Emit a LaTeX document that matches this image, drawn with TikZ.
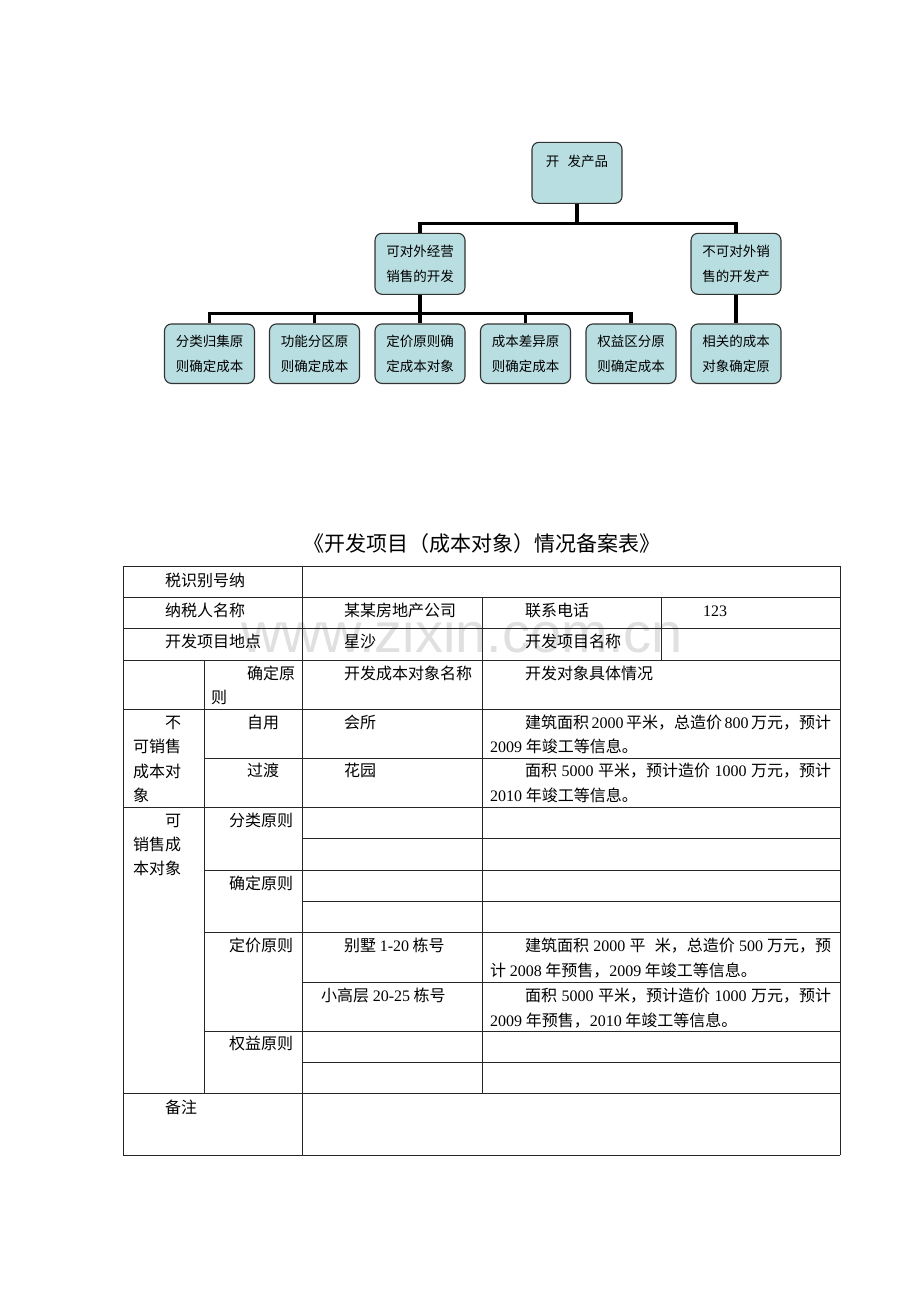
\documentclass[tikz,border=0pt]{standalone}
\usepackage{fontspec}
\setmainfont{Liberation Serif}
\newfontfamily\cjk{Noto Sans CJK SC}
\newfontfamily\wmfont{Liberation Sans}
\newcommand\lt[1]{{\rmfamily #1}}
\definecolor{boxc}{HTML}{B9DEE1}
\tikzset{
  tbox/.style={draw=black!80, line width=1.1pt, fill=boxc, rounded corners=7pt,
    minimum width=90pt, minimum height=61pt, inner sep=0pt, align=center,
    font=\cjk\fontsize{13.5}{24.5}\selectfont},
  conn/.style={line width=3.3pt},
  tl/.style={draw=black!85, line width=0.9pt},
  tt/.style={anchor=west, inner sep=0pt, text height=14pt, text depth=2pt,
    font=\cjk\fontsize{16}{16}\selectfont},
}
\begin{document}
\begin{tikzpicture}[x=1pt,y=-1pt]
\useasboundingbox (0,0) rectangle (920,1302);
\fill[white] (0,0) rectangle (920,1302);

% ---------- tree ----------
\node[tbox] (top) at (577,172.8) {开\hspace{0.6em}发产品\\\mbox{}};
\node[tbox] (ml) at (420,263.8) {可对外经营\\销售的开发};
\node[tbox] (mr) at (736,263.8) {不可对外销\\售的开发产};
\node[tbox, minimum height=59.5pt] (b1) at (209.5,353.7) {分类归集原\\则确定成本};
\node[tbox, minimum height=59.5pt] (b2) at (314.5,353.7) {功能分区原\\则确定成本};
\node[tbox, minimum height=59.5pt] (b3) at (420,353.7) {定价原则确\\定成本对象};
\node[tbox, minimum height=59.5pt] (b4) at (525.5,353.7) {成本差异原\\则确定成本};
\node[tbox, minimum height=59.5pt] (b5) at (631,353.7) {权益区分原\\则确定成本};
\node[tbox, minimum height=59.5pt] (b6) at (736,353.7) {相关的成本\\对象确定原};

\coordinate (j1) at (577,223.3);
\coordinate (j2) at (420,313.5);
\draw[conn] (top.south) -- (j1);
\draw[conn] (ml.north) |- (j1) -| (mr.north);
\draw[conn] (ml.south) -- (b3.north);
\draw[conn] (b1.north) |- (j2) -| (b5.north);
\draw[conn] (b2.north) -- (b2.north |- j2);
\draw[conn] (b4.north) -- (b4.north |- j2);
\draw[conn] (mr.south) -- (b6.north);

% ---------- title ----------
\node[inner sep=0pt, font=\cjk\fontsize{21}{21}\selectfont] (title) at (482,543.5)
  {《开发项目（成本对象）情况备案表》};

% ---------- watermark ----------
\node[anchor=base, inner sep=0pt, text=black!12, font=\wmfont\fontsize{56}{56}\selectfont]
  (wm) at (462,652) {www.zixin.com.cn};

% ---------- table lines ----------
\foreach \yy/\xa in {566/123, 597/123, 628/123, 660/123, 709/123, 758/204, 807/123,
  838.5/302, 870/204, 901/302, 932.5/204, 982/302, 1031/204, 1062/302, 1093/123, 1155/123}
  \draw[tl] (\xa,\yy) -- (840,\yy);
\draw[tl] (123,566) -- (123,1155);
\draw[tl] (840,566) -- (840,1155);
\draw[tl] (302,566) -- (302,1155);
\draw[tl] (204,660) -- (204,1093);
\draw[tl] (482,597) -- (482,1093);
\draw[tl] (661,597) -- (661,660);

% ---------- table text ----------
\node[tt] (t1) at (165,580.5) {税识别号纳};
\node[tt] (t2) at (165,610) {纳税人名称};
\node[tt] (t3) at (344,610) {某某房地产公司};
\node[tt] (t4) at (525,610) {联系电话};
\node[tt] (t5) at (703,610) {\lt{123}};
\node[tt] (t6) at (165,641.5) {开发项目地点};
\node[tt] (t7) at (344,641.5) {星沙};
\node[tt] (t8) at (525,641.5) {开发项目名称};
\node[tt] (t9) at (247,673.5) {确定原};
\node[tt] (t10) at (211,697.5) {则};
\node[tt] (t11) at (344,673.5) {开发成本对象名称};
\node[tt] (t12) at (525,673.5) {开发对象具体情况};

\node[tt] (t13) at (165,722) {不};
\node[tt] (t14) at (133,746.5) {可销售};
\node[tt] (t15) at (133,771) {成本对};
\node[tt] (t16) at (133,795) {象};
\node[tt] (t17) at (247,722) {自用};
\node[tt] (t18) at (344,722) {会所};
\node[tt] (t19) at (525,722) {\makebox[306pt][s]{建筑面积 \lt{2000} 平米，总造价 \lt{800} 万元，预计}};
\node[tt] (t20) at (490,746.5) {\lt{2009} 年竣工等信息。};
\node[tt] (t21) at (247,770.5) {过渡};
\node[tt] (t22) at (344,770.5) {花园};
\node[tt] (t23) at (525,770.5) {\makebox[306pt][s]{面积 \lt{5000} 平米，预计造价 \lt{1000} 万元，预计}};
\node[tt] (t24) at (490,795) {\lt{2010} 年竣工等信息。};

\node[tt] (t25) at (165,820) {可};
\node[tt] (t26) at (133,844.5) {销售成};
\node[tt] (t27) at (133,868.5) {本对象};
\node[tt] (t28) at (229,820) {分类原则};
\node[tt] (t29) at (229,883) {确定原则};
\node[tt] (t30) at (229,945) {定价原则};
\node[tt] (t31) at (344,945) {别墅 \lt{1-20} 栋号};
\node[tt] (t32) at (525,945) {\makebox[306pt][s]{建筑面积 \lt{2000} 平\hspace{5pt} 米，总造价 \lt{500} 万元，预}};
\node[tt] (t33) at (490,970) {计 \lt{2008} 年预售，\lt{2009} 年竣工等信息。};
\node[tt] (t34) at (321,995) {小高层 \lt{20-25} 栋号};
\node[tt] (t35) at (525,995) {\makebox[306pt][s]{面积 \lt{5000} 平米，预计造价 \lt{1000} 万元，预计}};
\node[tt] (t36) at (490,1020) {\lt{2009} 年预售，\lt{2010} 年竣工等信息。};
\node[tt] (t37) at (229,1043.5) {权益原则};
\node[tt] (t38) at (165,1107) {备注};
\end{tikzpicture}
\end{document}
